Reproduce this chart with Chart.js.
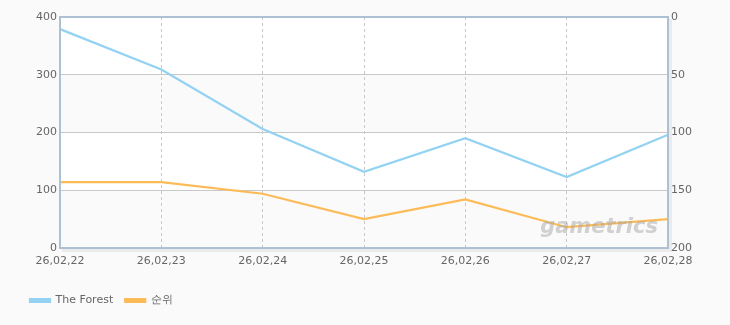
<!DOCTYPE html>
<html><head><meta charset="utf-8">
<script src="https://cdn.jsdelivr.net/npm/chart.js@4/dist/chart.umd.min.js"></script>
<style>html,body{margin:0;padding:0;background:#fafafa;}#wrap{width:730px;height:325px;}</style>
</head><body><div id="wrap"><canvas id="c" width="730" height="325"></canvas></div>
<script>
const categories = ['26,02,22','26,02,23','26,02,24','26,02,25','26,02,26','26,02,27','26,02,28'];
const forestValues = [379, 309, 206, 132, 190, 123, 196];
const rankValues = [143, 143, 153, 175, 158, 182, 175];
const leftTicks = [0, 100, 200, 300, 400];
const rightTicks = [0, 50, 100, 150, 200];

const F = '"DejaVu Sans", sans-serif';
const bgPlugin = {
  id: 'bg',
  afterLayout(chart) {
    if (chart.legend) { chart.legend.left += 18; chart.legend.right += 18; }
  },
  beforeDraw(chart) {
    const {ctx, chartArea: a, scales} = chart;
    ctx.save();
    ctx.fillStyle = '#fafafa';
    ctx.fillRect(0, 0, chart.width, chart.height);
    const y = scales.y;
    for (let i = 0; i < leftTicks.length - 1; i++) {
      const top = y.getPixelForValue(leftTicks[i+1]);
      const bot = y.getPixelForValue(leftTicks[i]);
      ctx.fillStyle = (i % 2 === 0) ? '#fafafa' : '#ffffff';
      ctx.fillRect(a.left, top, a.right - a.left, bot - top);
    }
    ctx.restore();
  },
  afterDatasetsDraw(chart) {
    const {ctx, chartArea: a} = chart;
    ctx.save();
    ctx.font = 'italic bold 21px ' + F;
    ctx.fillStyle = 'rgba(165,165,165,0.5)';
    ctx.textAlign = 'right';
    ctx.textBaseline = 'alphabetic';
    ctx.fillText('gametrics', a.right - 10, a.bottom - 15);
    ctx.restore();
  },
  afterDraw(chart) {
    const {ctx, chartArea: a} = chart;
    ctx.save();
    ctx.strokeStyle = 'rgba(0,0,0,0.06)';
    ctx.lineWidth = 3;
    ctx.beginPath();
    ctx.moveTo(a.right + 2.5, a.top + 2);
    ctx.lineTo(a.right + 2.5, a.bottom + 2.5);
    ctx.lineTo(a.left + 2, a.bottom + 2.5);
    ctx.stroke();
    ctx.strokeStyle = '#adc0d4';
    ctx.lineWidth = 2;
    ctx.strokeRect(a.left, a.top, a.right - a.left, a.bottom - a.top);
    ctx.restore();
  }
};

new Chart(document.getElementById('c'), {
  type: 'line',
  data: {
    labels: categories,
    datasets: [
      {label: 'The Forest', data: forestValues, yAxisID: 'y', borderColor: '#93d2f2', backgroundColor: '#93d2f2', borderWidth: 2.2, pointRadius: 0, tension: 0},
      {label: '순위', data: rankValues, yAxisID: 'y2', borderColor: '#fdbb58', backgroundColor: '#fdbb58', borderWidth: 2.2, pointRadius: 0, tension: 0}
    ]
  },
  options: {
    responsive: false,
    animation: false,
    layout: {padding: {top: 17, left: 0, right: 0, bottom: 9}},
    plugins: {
      tooltip: {enabled: false},
      legend: {
        position: 'bottom', align: 'start',
        labels: {boxWidth: 20, boxHeight: 3, padding: 12, color: '#666', font: {family: F, size: 11}}
      }
    },
    scales: {
      x: {
        offset: false,
        grid: {color: '#c8c8c8', drawTicks: false, lineWidth: 1},
        border: {display: false, dash: [3, 3]},
        ticks: {color: '#666', font: {family: F, size: 11}, padding: 7, maxRotation: 0, autoSkip: false},
        afterFit(s) { s.height = 35; }
      },
      y: {
        position: 'left', min: 0, max: 400,
        afterBuildTicks(s) { s.ticks = leftTicks.map(v => ({value: v})); },
        grid: {color: '#c8c8c8', drawTicks: false},
        border: {display: false},
        ticks: {color: '#666', font: {family: F, size: 11}, padding: 3},
        afterFit(s) { s.width = 60; }
      },
      y2: {
        position: 'right', min: 0, max: 200, reverse: true,
        afterBuildTicks(s) { s.ticks = rightTicks.map(v => ({value: v})); },
        grid: {display: false, drawTicks: false},
        border: {display: false},
        ticks: {color: '#666', font: {family: F, size: 11}, padding: 3},
        afterFit(s) { s.width = 62; }
      }
    }
  },
  plugins: [bgPlugin]
});
</script></body></html>
